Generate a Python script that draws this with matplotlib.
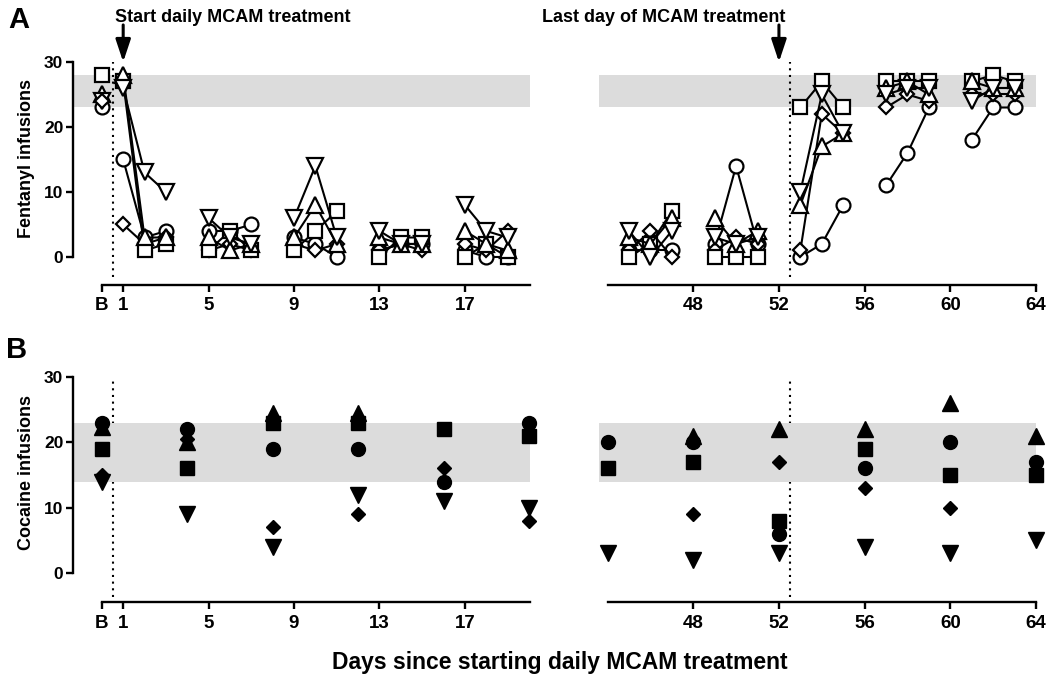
import numpy as np
import matplotlib
matplotlib.use("Agg")
import matplotlib.pyplot as plt

plt.rcParams['font.family'] = ['Liberation Sans', 'DejaVu Sans']
plt.rcParams['font.weight'] = 'bold'

nan = np.nan

# Panel A: fentanyl infusions (open symbols), sessions in blocks of 3 days
fent_days = [1, 2, 3, 5, 6, 7, 9, 10, 11, 13, 14, 15, 17, 18, 19,
             45, 46, 47, 49, 50, 51, 53, 54, 55, 57, 58, 59, 61, 62, 63]
fent_circle = [15, 3, 4, 4, 4, 5, 3, 2, 0, 1, 2, 2, 1, 0, 0,
               1, 1, 1, 2, 14, 2, 0, 2, 8, 11, 16, 23, 18, 23, 23]
fent_square = [27, 1, 2, 1, 4, 1, 1, 4, 7, 0, 3, 3, 0, 2, 0,
               0, 2, 7, 0, 0, 0, 23, 27, 23, 27, 27, 27, 27, 28, 27]
fent_up = [28, 3, 3, 3, 1, 2, 3, 8, 2, 3, 2, 2, 4, 2, 1,
           3, 2, 6, 6, 2, 4, 8, 17, 19, 26, 27, 25, 27, 26, 26]
fent_down = [26, 13, 10, 6, 3, 2, 6, 14, 3, 4, 2, 2, 8, 4, 3,
             4, 0, 4, 3, 2, 3, 10, 25, 19, 25, 26, 26, 24, 26, 26]
fent_diamond = [5, 2, 3, 1, 2, 1, 2, 1, 2, 1, 2, 1, 2, 1, 4,
                1, 4, 0, 1, 3, 2, 1, 22, 19, 23, 25, 24, 25, 25, 25]
# baseline (B) values: circle, square, up, down, diamond
fent_base = [23, 28, 25, 24, 24]

# Panel B: cocaine infusions (filled symbols)
coc_days = [0, 4, 8, 12, 16, 20, 44, 48, 52, 56, 60, 64]
coc_up = [22.4, 20, 24.5, 24.5, nan, nan, nan, 21, 22, 22, 26, 21]
coc_square = [19, 16, 23, 23, 22, 21, 16, 17, 8, 19, 15, 15]
coc_circle = [23, 22, 19, 19, 14, 23, 20, 20, 6, 16, 20, 17]
coc_diamond = [15, 20.5, 7, 9, 16, 8, nan, 9, 17, 13, 10, nan]
coc_down = [14, 9, 4, 12, 11, 10, 3, 2, 3, 4, 3, 5]

fent_band = (23, 28)
coc_band = (14, 23)

left_ticks = [0, 1, 5, 9, 13, 17]
left_labels = ['B', '1', '5', '9', '13', '17']
right_ticks = [48, 52, 56, 60, 64]

sty = {'circle': ('o', 10), 'square': ('s', 10), 'up': ('^', 11),
       'down': ('v', 11), 'diamond': ('D', 7)}

fig = plt.figure(figsize=(10.5, 6.78), dpi=100)
W, H = 1050.0, 678.0


def make_ax(x0, x1, ytop, ybot):
    return fig.add_axes([x0 / W, 1 - ybot / H, (x1 - x0) / W, (ybot - ytop) / H])


axA1 = make_ax(73, 530, 62, 285)
axA2 = make_ax(599, 1036, 62, 285)
axB1 = make_ax(73, 530, 377, 602)
axB2 = make_ax(599, 1036, 377, 602)


def style_axes(ax, left):
    ax.spines['top'].set_visible(False)
    ax.spines['right'].set_visible(False)
    for s in ax.spines.values():
        s.set_linewidth(1.7)
    ax.tick_params(width=1.7, length=5, direction='out')
    ax.tick_params(axis='x', labelsize=13.5, pad=4)
    ax.tick_params(axis='y', labelsize=12.5, pad=2)
    if left:
        ax.set_xlim(-1.35, 20.05)
        ax.spines['bottom'].set_bounds(0, 20.05)
        ax.spines['left'].set_bounds(0, 30)
        ax.set_xticks(left_ticks)
        ax.set_xticklabels(left_labels)
        ax.set_yticks([0, 10, 20, 30])
    else:
        ax.set_xlim(43.6, 64)
        ax.spines['bottom'].set_bounds(44, 64)
        ax.spines['left'].set_visible(False)
        ax.set_xticks(right_ticks)
        ax.set_yticks([])
    for lab in ax.get_xticklabels() + ax.get_yticklabels():
        lab.set_fontweight('bold')


# ---- Panel A ----
fent = {'circle': fent_circle, 'square': fent_square, 'up': fent_up,
        'down': fent_down, 'diamond': fent_diamond}
base_names = ['circle', 'square', 'up', 'down', 'diamond']
for ax, left in [(axA1, True), (axA2, False)]:
    ax.set_ylim(-4.31, 30)
    ax.axhspan(fent_band[0], fent_band[1], color='#dcdcdc', lw=0, zorder=0)
    xd = 0.5 if left else 52.5
    ax.vlines(xd, -3.1, 30, colors='black', linestyles=(0, (1, 2.2)), lw=1.5, zorder=1)
    style_axes(ax, left)

days = np.array(fent_days)
for name in ['circle', 'diamond', 'square', 'up', 'down']:
    vals = np.array(fent[name], dtype=float)
    m, ms = sty[name]
    for i in range(0, len(days), 3):
        d = days[i:i + 3]
        v = vals[i:i + 3]
        ax = axA1 if d[0] < 30 else axA2
        ax.plot(d, v, color='black', lw=1.5, marker=m, ms=ms, mfc='white',
                mec='black', mew=1.6, clip_on=False, zorder=3)

for name, val in zip(base_names, fent_base):
    m, ms = sty[name]
    axA1.plot([0], [val], ls='none', marker=m, ms=ms, mfc='white', mec='black',
              mew=1.6, clip_on=False, zorder=3)

# ---- Panel B ----
coc = [('up', coc_up), ('square', coc_square), ('circle', coc_circle),
       ('diamond', coc_diamond), ('down', coc_down)]
for ax, left in [(axB1, True), (axB2, False)]:
    ax.set_ylim(-4.44, 30)
    xd = 0.5 if left else 52.5
    ax.vlines(xd, -3.7, 30, colors='black', linestyles=(0, (1, 2.2)), lw=1.5, zorder=0)
    ax.axhspan(coc_band[0], coc_band[1], color='#dcdcdc', lw=0, zorder=1)
    style_axes(ax, left)

cd = np.array(coc_days)
for name, vals in coc:
    m, ms = sty[name]
    vals = np.array(vals, dtype=float)
    for ax, mask in [(axB1, cd < 30), (axB2, cd >= 30)]:
        ax.plot(cd[mask], vals[mask], ls='none', marker=m, ms=ms, mfc='black',
                mec='black', clip_on=False, zorder=3)

# ---- labels and arrows ----
fig.text(27 / W, 1 - 158 / H, 'Fentanyl infusions', rotation=90, ha='center',
         va='center', fontsize=13, fontweight='bold')
fig.text(27 / W, 1 - 473 / H, 'Cocaine infusions', rotation=90, ha='center',
         va='center', fontsize=13, fontweight='bold')
fig.text(560 / W, 1 - 662 / H, 'Days since starting daily MCAM treatment',
         ha='center', va='center', fontsize=16.5, fontweight='bold')
fig.text(8 / W, 1 - 20 / H, 'A', ha='left', va='center', fontsize=21, fontweight='bold')
fig.text(6 / W, 1 - 350 / H, 'B', ha='left', va='center', fontsize=21, fontweight='bold')

fig.text(115 / W, 1 - 18 / H, 'Start daily MCAM treatment', ha='left', va='center',
         fontsize=13, fontweight='bold')
fig.text(542 / W, 1 - 18 / H, 'Last day of MCAM treatment', ha='left', va='center',
         fontsize=13, fontweight='bold')

arrow = dict(arrowstyle='-|>,head_length=1.35,head_width=0.45', lw=2.2, color='black',
             shrinkA=0, shrinkB=0)
axA1.annotate('', xy=(1, 30), xytext=(1, 35.7), arrowprops=arrow, annotation_clip=False)
axA2.annotate('', xy=(52, 30), xytext=(52, 35.7), arrowprops=arrow, annotation_clip=False)

fig.savefig('out.png', dpi=100)
